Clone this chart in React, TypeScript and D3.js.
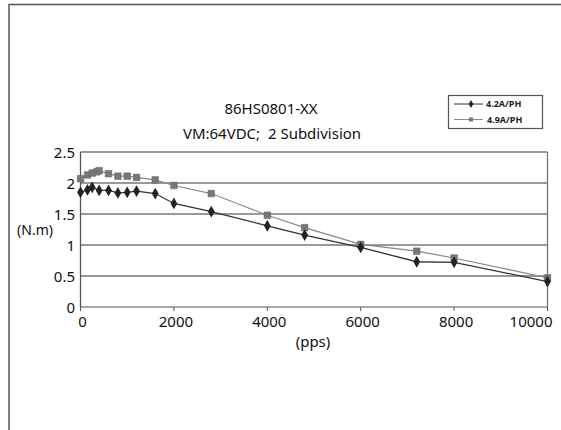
import React from "react";
import * as d3 from "d3";

const seriesANames = "4.2A/PH";
const seriesBNames = "4.9A/PH";
const xA = [0, 150, 250, 400, 600, 800, 1000, 1200, 1600, 2000, 2800, 4000, 4800, 6000, 7200, 8000, 10000];
const yA = [1.85, 1.89, 1.93, 1.88, 1.88, 1.84, 1.85, 1.87, 1.83, 1.67, 1.54, 1.31, 1.16, 0.96, 0.73, 0.72, 0.41];
const xB = [0, 150, 250, 350, 400, 600, 800, 1000, 1200, 1600, 2000, 2800, 4000, 4800, 6000, 7200, 8000, 10000];
const yB = [2.07, 2.13, 2.16, 2.18, 2.2, 2.15, 2.11, 2.11, 2.09, 2.05, 1.96, 1.83, 1.48, 1.28, 1.01, 0.9, 0.79, 0.47];
const xTicks = [0, 2000, 4000, 6000, 8000, 10000];
const yTicks = [0, 0.5, 1, 1.5, 2, 2.5];
const titleText = "86HS0801-XX";
const subtitleText = "VM:64VDC;\u00a0 2 Subdivision";

const FONT = "'Noto Sans', 'DejaVu Sans', sans-serif";

export default function App() {
  const x = d3.scaleLinear().domain([0, 10000]).range([80.5, 547.5]);
  const y = d3.scaleLinear().domain([0, 2.5]).range([307, 152]);
  const line = d3.line<[number, number]>().x((d) => x(d[0])).y((d) => y(d[1]));
  const dataA: [number, number][] = xA.map((v, i) => [v, yA[i]]);
  const dataB: [number, number][] = xB.map((v, i) => [v, yB[i]]);
  const diamond = d3.symbol().type(d3.symbolDiamond).size(40)() as string;
  const square = d3.symbol().type(d3.symbolSquare).size(44)() as string;
  const legDiamond = d3.symbol().type(d3.symbolDiamond).size(18)() as string;
  const legSquare = d3.symbol().type(d3.symbolSquare).size(16)() as string;

  return (
    <svg width={561} height={430} style={{ position: "absolute", left: 0, top: 0, background: "#fff" }}>
      <rect x={0} y={0} width={561} height={430} fill="#fff" />
      {/* outer frame */}
      <path d="M9,430 L9,4.5 L561,4.5" fill="none" stroke="#555" strokeWidth={1.5} />
      {/* title */}
      <text x={271} y={114} textAnchor="middle" fontFamily={FONT} fontSize={15} fill="#111">{titleText}</text>
      <text x={272} y={139} textAnchor="middle" fontFamily={FONT} fontSize={15} fill="#111">{subtitleText}</text>
      {/* gridlines */}
      {yTicks.map((t) => (
        <line key={"g" + t} x1={x(0)} x2={x(10000)} y1={y(t)} y2={y(t)} stroke={t === 0 ? "#555" : "#777"} strokeWidth={t === 0 ? 1.2 : 1.4} />
      ))}
      {/* plot border */}
      <line x1={x(0)} x2={x(0)} y1={y(2.5)} y2={y(0)} stroke="#555" strokeWidth={1.3} />
      <line x1={x(10000)} x2={x(10000)} y1={y(2.5)} y2={y(0)} stroke="#777" strokeWidth={1.3} />
      {/* x ticks */}
      {xTicks.map((t) => (
        <line key={"xt" + t} x1={x(t)} x2={x(t)} y1={y(0)} y2={y(0) + 4} stroke="#555" strokeWidth={1} />
      ))}
      {/* y tick labels */}
      {yTicks.map((t) => (
        <text key={"yl" + t} x={75} y={y(t) + 6} textAnchor="end" fontFamily={FONT} fontSize={15} fill="#111">{String(t)}</text>
      ))}
      {/* x tick labels */}
      {xTicks.map((t, i) => (
        <text key={"xl" + t} x={i === xTicks.length - 1 ? x(t) + 5 : x(t) + 2} y={327} textAnchor={i === xTicks.length - 1 ? "end" : "middle"} fontFamily={FONT} fontSize={15} fill="#111">{String(t)}</text>
      ))}
      <text x={35} y={235} textAnchor="middle" fontFamily={FONT} fontSize={14} fill="#111">(N.m)</text>
      <text x={313} y={347} textAnchor="middle" fontFamily={FONT} fontSize={15} fill="#111">(pps)</text>
      {/* series B */}
      <path d={line(dataB) as string} fill="none" stroke="#888" strokeWidth={1.2} />
      {dataB.map((d, i) => (
        <path key={"b" + i} d={square} transform={`translate(${x(d[0])},${y(d[1])})`} fill="#777" stroke="#666" strokeWidth={0.5} />
      ))}
      {/* series A */}
      <path d={line(dataA) as string} fill="none" stroke="#333" strokeWidth={1.3} />
      {dataA.map((d, i) => (
        <path key={"a" + i} d={diamond} transform={`translate(${x(d[0])},${y(d[1])})`} fill="#222" />
      ))}
      {/* legend */}
      <rect x={448.5} y={95.5} width={94} height={33} fill="#fff" stroke="#555" strokeWidth={1.2} />
      <line x1={454} x2={483} y1={104} y2={104} stroke="#333" strokeWidth={1} />
      <path d={legDiamond} transform="translate(471,104)" fill="#222" />
      <text x={486} y={107} fontFamily={FONT} fontSize={9} fontWeight="bold" fill="#222">{seriesANames}</text>
      <line x1={454} x2={483} y1={119.5} y2={119.5} stroke="#888" strokeWidth={1} />
      <path d={legSquare} transform="translate(471,119.5)" fill="#777" />
      <text x={487} y={122.5} fontFamily={FONT} fontSize={9} fontWeight="bold" fill="#222">{seriesBNames}</text>
    </svg>
  );
}
